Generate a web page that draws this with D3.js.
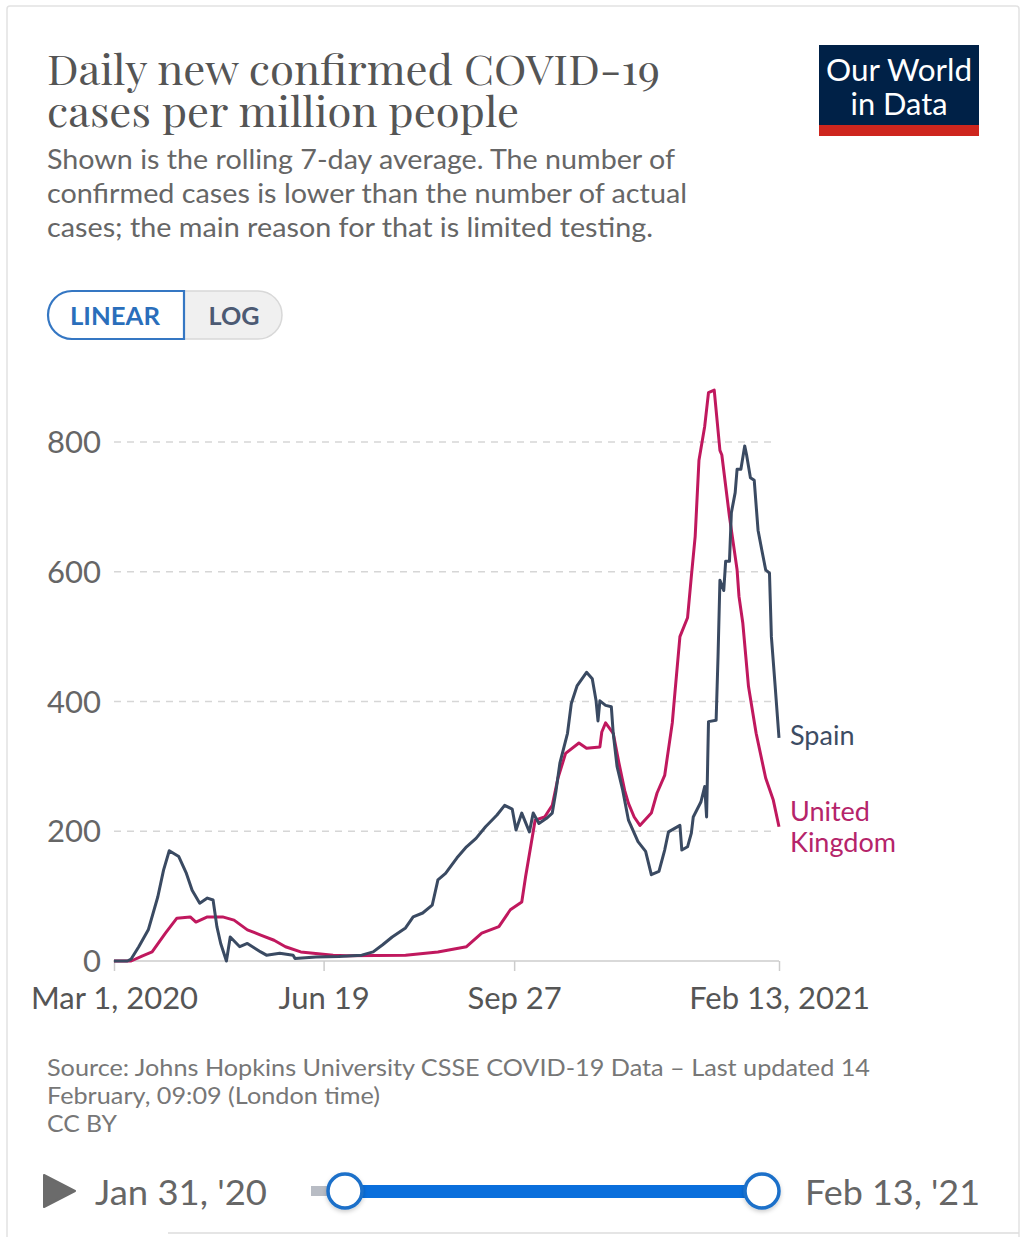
<!DOCTYPE html>
<html><head><meta charset="utf-8">
<script src="https://cdn.jsdelivr.net/npm/d3@7"></script>
<style>
html,body{margin:0;padding:0;background:#fff;}
svg{display:block;}
</style></head>
<body>
<svg id="chart" width="1024" height="1237"></svg>
<script>
// ---- data ----
const seriesNames = ["Spain", "United Kingdom"];
const spainDates = ["2020-03-01","2020-03-08","2020-03-10","2020-03-14","2020-03-19","2020-03-24","2020-03-27","2020-03-30","2020-04-04","2020-04-08","2020-04-11","2020-04-15","2020-04-19","2020-04-22","2020-04-24","2020-04-26","2020-04-29","2020-05-01","2020-05-06","2020-05-10","2020-05-17","2020-05-20","2020-05-27","2020-06-03","2020-06-04","2020-06-15","2020-06-27","2020-07-09","2020-07-15","2020-07-20","2020-07-25","2020-08-01","2020-08-05","2020-08-10","2020-08-15","2020-08-18","2020-08-22","2020-08-28","2020-09-02","2020-09-07","2020-09-12","2020-09-18","2020-09-22","2020-09-26","2020-09-28","2020-10-01","2020-10-05","2020-10-07","2020-10-10","2020-10-14","2020-10-17","2020-10-19","2020-10-21","2020-10-25","2020-10-27","2020-10-30","2020-11-04","2020-11-07","2020-11-09","2020-11-10","2020-11-11","2020-11-14","2020-11-17","2020-11-18","2020-11-20","2020-11-23","2020-11-26","2020-12-01","2020-12-05","2020-12-08","2020-12-12","2020-12-15","2020-12-17","2020-12-23","2020-12-24","2020-12-27","2020-12-29","2020-12-30","2021-01-03","2021-01-05","2021-01-06","2021-01-07","2021-01-11","2021-01-12","2021-01-13","2021-01-15","2021-01-16","2021-01-18","2021-01-19","2021-01-21","2021-01-22","2021-01-24","2021-01-26","2021-01-27","2021-01-29","2021-01-31","2021-02-02","2021-02-04","2021-02-06","2021-02-08","2021-02-09","2021-02-11","2021-02-13"];
const spainValues = [0,0,3,22,48,99,140,170,161,135,109,89,97,94,53,27,0,37,22,27,14,9,12,9,4,6,7,9,14,25,37,51,68,74,86,125,135,159,176,189,207,225,240,234,202,228,199,228,212,220,228,263,305,351,397,424,445,435,401,370,401,394,392,351,300,263,217,184,169,133,138,171,199,209,171,176,197,222,245,269,222,369,371,469,587,571,616,616,691,722,758,758,794,780,745,741,664,633,603,598,500,423,344];
const ukDates = ["2020-03-01","2020-03-10","2020-03-16","2020-03-21","2020-03-28","2020-04-03","2020-04-10","2020-04-13","2020-04-19","2020-04-27","2020-05-03","2020-05-10","2020-05-17","2020-05-24","2020-05-30","2020-06-07","2020-06-24","2020-07-01","2020-08-01","2020-08-18","2020-09-02","2020-09-10","2020-09-19","2020-09-25","2020-10-01","2020-10-03","2020-10-06","2020-10-08","2020-10-13","2020-10-17","2020-10-20","2020-10-24","2020-10-31","2020-11-04","2020-11-11","2020-11-12","2020-11-14","2020-11-18","2020-11-21","2020-11-24","2020-11-26","2020-11-29","2020-12-02","2020-12-08","2020-12-11","2020-12-15","2020-12-19","2020-12-20","2020-12-23","2020-12-27","2020-12-29","2020-12-31","2021-01-02","2021-01-05","2021-01-07","2021-01-10","2021-01-13","2021-01-14","2021-01-18","2021-01-22","2021-01-23","2021-01-25","2021-01-28","2021-02-01","2021-02-06","2021-02-10","2021-02-13"];
const ukValues = [0,0,8,14,43,66,68,60,68,68,63,48,40,32,22,14,9,8,9,14,22,43,53,79,91,130,182,217,222,240,282,320,336,328,330,353,367,351,305,263,243,222,209,228,259,286,367,401,500,529,593,654,772,824,876,880,787,780,685,603,562,521,423,351,282,248,207];
const xTickDates = ["2020-03-01","2020-06-19","2020-09-27","2021-02-13"];
const xTickLabels = ["Mar 1, 2020","Jun 19","Sep 27","Feb 13, 2021"];
const yTicks = [0,200,400,600,800];

const parse = d3.timeParse("%Y-%m-%d");
const svg = d3.select("#chart");
const sans = "Lato, 'Noto Sans', sans-serif";

// card
svg.append("rect").attr("x",7).attr("y",6).attr("width",1012).attr("height",1240)
  .attr("fill","#fff").attr("stroke","#e2e2e2").attr("stroke-width",1.5).attr("rx",3);

// title
const title = ["Daily new confirmed COVID-19","cases per million people"];
const titleW = [613, 472];
svg.selectAll("text.title").data(title).join("text").attr("class","title")
  .attr("x",47).attr("y",(d,i)=>85+i*42).text(d=>d)
  .attr("font-family","'Playfair Display','DejaVu Serif','Liberation Serif',serif")
  .attr("font-size",42).attr("fill","#555")
  .attr("textLength",(d,i)=>titleW[i]).attr("lengthAdjust","spacingAndGlyphs");

const sub = ["Shown is the rolling 7-day average. The number of","confirmed cases is lower than the number of actual","cases; the main reason for that is limited testing."];
const subW = [628, 640, 606];
svg.selectAll("text.sub").data(sub).join("text").attr("class","sub")
  .attr("x",47).attr("y",(d,i)=>169+i*34).text(d=>d)
  .attr("font-family",sans).attr("font-size",27).attr("fill","#666")
  .attr("textLength",(d,i)=>subW[i]).attr("lengthAdjust","spacingAndGlyphs");

// logo
svg.append("rect").attr("x",819).attr("y",45).attr("width",160).attr("height",91).attr("fill","#002147");
svg.append("rect").attr("x",819).attr("y",125).attr("width",160).attr("height",11).attr("fill","#ce261e");
svg.append("text").attr("x",899).attr("y",81).attr("text-anchor","middle").text("Our World")
  .attr("font-family",sans).attr("font-size",31).attr("fill","#fff")
  .attr("textLength",146).attr("lengthAdjust","spacingAndGlyphs");
svg.append("text").attr("x",899).attr("y",115).attr("text-anchor","middle").text("in Data")
  .attr("font-family",sans).attr("font-size",31).attr("fill","#fff")
  .attr("textLength",97).attr("lengthAdjust","spacingAndGlyphs");

// toggle buttons
svg.append("path").attr("d","M282,315 A24,24 0 0 1 258,339 L184,339 L184,291 L258,291 A24,24 0 0 1 282,315 Z")
  .attr("fill","#f0f0f0").attr("stroke","#d8d8d8").attr("stroke-width",1.5);
svg.append("path").attr("d","M184,291 L72,291 A24,24 0 0 0 72,339 L184,339 Z")
  .attr("fill","#fff").attr("stroke","#3577c3").attr("stroke-width",2.2);
svg.append("text").attr("x",115).attr("y",325).attr("text-anchor","middle").text("LINEAR")
  .attr("font-family",sans).attr("font-weight","bold").attr("font-size",25).attr("fill","#2a6ebb")
  .attr("textLength",90).attr("lengthAdjust","spacingAndGlyphs");
svg.append("text").attr("x",234).attr("y",325).attr("text-anchor","middle").text("LOG")
  .attr("font-family",sans).attr("font-weight","bold").attr("font-size",25).attr("fill","#4c5a73")
  .attr("textLength",51).attr("lengthAdjust","spacingAndGlyphs");

// scales
const x = d3.scaleTime().domain([parse("2020-03-01"), parse("2021-02-13")]).range([114, 779]);
const y = d3.scaleLinear().domain([0, 800]).range([961, 442]);

// y axis labels
const yAxis = d3.axisLeft(y).tickValues(yTicks).tickSize(0).tickPadding(13).tickFormat(d3.format("d"));
const gy = svg.append("g").attr("transform","translate(101,0)").call(yAxis);
gy.select(".domain").remove();
gy.selectAll("text").attr("font-family",sans).attr("font-size",31).attr("fill","#666").attr("x",0).attr("dy","0.34em");

// grid
svg.append("g").selectAll("line").data(yTicks.filter(d=>d>0)).join("line")
  .attr("x1",114).attr("x2",775).attr("y1",d=>y(d)).attr("y2",d=>y(d))
  .attr("stroke","#d6d6d6").attr("stroke-width",1.5).attr("stroke-dasharray","7,6");

// x axis
const xAxis = d3.axisBottom(x).tickValues(xTickDates.map(parse)).tickSize(10).tickPadding(16)
  .tickFormat((d,i)=>xTickLabels[i]);
const gx = svg.append("g").attr("transform",`translate(0,${y(0)})`).call(xAxis);
gx.select(".domain").attr("stroke","#ccc").attr("stroke-width",1.5).attr("d","M113,0H779");
gx.selectAll(".tick line").attr("stroke","#ccc").attr("stroke-width",1.5);
gx.selectAll("text").attr("font-family",sans).attr("font-size",31).attr("fill","#555");

// lines
const line = d3.line().x(d=>x(d[0])).y(d=>y(d[1]));
const spain = spainDates.map((d,i)=>[parse(d), spainValues[i]]);
const uk = ukDates.map((d,i)=>[parse(d), ukValues[i]]);
const spainColor = "#3a4a62", ukColor = "#c0185e";
svg.append("path").datum(uk).attr("d",line).attr("fill","none").attr("stroke",ukColor)
  .attr("stroke-width",3).attr("stroke-linejoin","round");
svg.append("path").datum(spain).attr("d",line).attr("fill","none").attr("stroke",spainColor)
  .attr("stroke-width",3).attr("stroke-linejoin","round");

// series labels
svg.append("text").attr("x",790).attr("y",745).text(seriesNames[0])
  .attr("font-family",sans).attr("font-size",27).attr("fill","#3d4c63");
const ukLbl = svg.append("text").attr("font-family",sans).attr("font-size",27).attr("fill","#b5246a");
ukLbl.append("tspan").attr("x",790).attr("y",821).text("United");
ukLbl.append("tspan").attr("x",790).attr("y",852).text("Kingdom");

// footer
const foot = ["Source: Johns Hopkins University CSSE COVID-19 Data \u2013 Last updated 14","February, 09:09 (London time)","CC BY"];
const footW = [823, 333, 70];
svg.selectAll("text.foot").data(foot).join("text").attr("class","foot")
  .attr("x",47).attr("y",(d,i)=>1076+i*28).text(d=>d)
  .attr("font-family",sans).attr("font-size",24).attr("fill","#777")
  .attr("textLength",(d,i)=>footW[i]).attr("lengthAdjust","spacingAndGlyphs");

// timeline
svg.append("path").attr("d","M44,1175 L75,1191 L44,1207 Z").attr("fill","#6b6b6b").attr("stroke","#6b6b6b").attr("stroke-linejoin","round").attr("stroke-width",2);
svg.append("text").attr("x",95).attr("y",1205).text("Jan 31, '20")
  .attr("font-family",sans).attr("font-size",35).attr("fill","#666")
  .attr("textLength",172).attr("lengthAdjust","spacingAndGlyphs");
svg.append("text").attr("x",805).attr("y",1205).text("Feb 13, '21")
  .attr("font-family",sans).attr("font-size",35).attr("fill","#666")
  .attr("textLength",175).attr("lengthAdjust","spacingAndGlyphs");
svg.append("rect").attr("x",311).attr("y",1186).attr("width",40).attr("height",10).attr("fill","#b8bcc4");
svg.append("rect").attr("x",345).attr("y",1185).attr("width",417).attr("height",13).attr("fill","#0a6fdc");
const defs = svg.append("defs");
const f = defs.append("filter").attr("id","sh").attr("x","-50%").attr("y","-50%").attr("width","200%").attr("height","200%");
f.append("feDropShadow").attr("dx",0).attr("dy",2).attr("stdDeviation",2).attr("flood-color","#000").attr("flood-opacity",0.2);
[345, 762].forEach(cx=>{
  svg.append("circle").attr("cx",cx).attr("cy",1191).attr("r",17).attr("fill","#fff")
    .attr("stroke","#1a6fc9").attr("stroke-width",3.5).attr("filter","url(#sh)");
});

// bottom table edge
svg.append("line").attr("x1",168).attr("x2",1019).attr("y1",1233).attr("y2",1233).attr("stroke","#ddd").attr("stroke-width",1.5);
</script>
</body></html>
